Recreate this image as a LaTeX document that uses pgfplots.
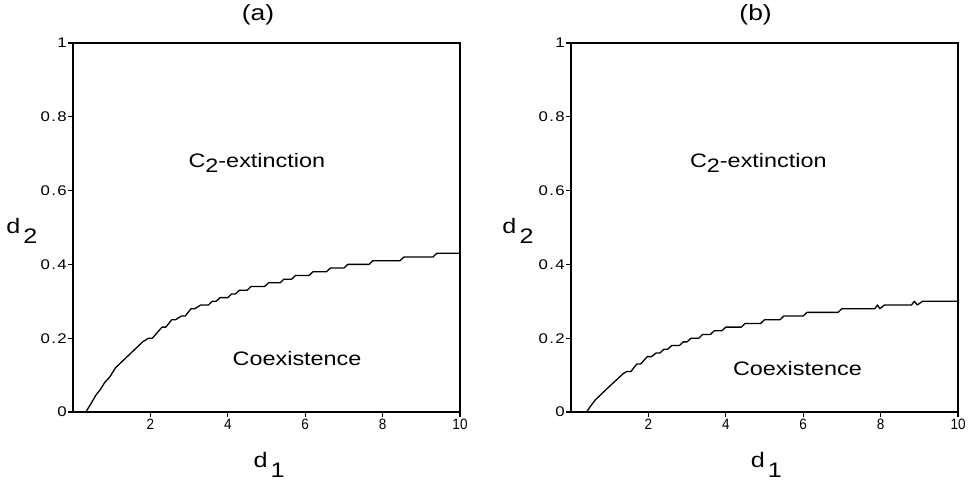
\documentclass[border=0pt]{standalone}
\usepackage{fontspec}
\setmainfont{Liberation Sans}[FakeStretch=1.2]
\newfontfamily\tickfont{Liberation Sans}[FakeStretch=1.2,LetterSpace=10]
\newfontfamily\narrowfont{Liberation Sans}[FakeStretch=0.9]
\usepackage{pgfplots}
\pgfplotsset{compat=1.18}

\pgfplotsset{
  phase/.style={
    scale only axis,
    width=387pt, height=369pt,
    xmin=0, xmax=10, ymin=0, ymax=1,
    xtick={2,4,6,8,10},
    ytick={0,0.2,0.4,0.6,0.8,1},
    xtick pos=bottom, ytick pos=left,
    tick align=outside,
    major tick length=5pt,
    major tick style={black, line width=1.2pt},
    axis line style={line width=2.2pt},
    /pgf/number format/assume math mode=true,
    yticklabel style={font=\tickfont\fontsize{14}{14}\selectfont, inner xsep=1pt},
    xticklabel style={font=\narrowfont\fontsize{15}{15}\selectfont, inner ysep=2pt},
    clip=false,
  },
  curve/.style={black, line width=1.3pt, line join=round},
}
\newcommand{\lab}{\fontsize{19.5}{20}\selectfont}
\newcommand{\biglab}{\fontsize{21}{22}\selectfont}

\begin{document}
\begin{tikzpicture}
\begin{axis}[phase]
  % (a) boundary
  \addplot[curve] coordinates {
    (0,0) (0.33,0) (0.45,0.02) (0.6,0.047) (0.7,0.06) (0.82,0.08)
    (0.95,0.095) (1.1,0.12) (1.3,0.14) (1.55,0.165) (1.8,0.19)
    (1.95,0.20) (2.05,0.20) (2.3,0.23) (2.4,0.23) (2.55,0.25) (2.65,0.25)
    (2.8,0.26) (2.9,0.26) (3.05,0.28) (3.15,0.28) (3.3,0.29) (3.5,0.29)
    (3.6,0.30) (3.7,0.30) (3.8,0.31) (4.0,0.31) (4.1,0.32) (4.2,0.32)
    (4.3,0.33) (4.5,0.33) (4.6,0.34) (4.95,0.34) (5.05,0.35) (5.35,0.35)
    (5.45,0.36) (5.65,0.36) (5.75,0.37) (6.1,0.37) (6.2,0.38) (6.55,0.38)
    (6.65,0.39) (7.0,0.39) (7.1,0.40) (7.65,0.40) (7.75,0.41) (8.45,0.41)
    (8.55,0.42) (9.3,0.42) (9.4,0.43) (10,0.43)
  };
  \node[font=\lab] at (axis cs:4.75,0.675) {C\raisebox{-5pt}{2}-extinction};
  \node[font=\lab] at (axis cs:5.79,0.146) {Coexistence};
  \node[font=\fontsize{22}{23}\selectfont] at (rel axis cs:0.478,1.076) {(a)};
  \node[font=\biglab, xshift=-51pt] at (rel axis cs:0,0.49) {d\hspace{3pt}\raisebox{-10pt}{2}};
  \node[font=\biglab, yshift=-53pt] at (rel axis cs:0.507,0) {d\hspace{3pt}\raisebox{-10pt}{1}};
\end{axis}

\begin{axis}[phase, at={(498pt,0pt)}]
  % (b) boundary
  \addplot[curve] coordinates {
    (0,0) (0.40,0) (0.5,0.015) (0.63,0.033) (1.0,0.07) (1.36,0.105)
    (1.45,0.11) (1.55,0.11) (1.7,0.13) (1.8,0.13) (1.97,0.15) (2.08,0.15)
    (2.2,0.16) (2.3,0.16) (2.4,0.17) (2.5,0.17) (2.6,0.18) (2.8,0.18)
    (2.9,0.19) (3.0,0.19) (3.1,0.20) (3.3,0.20) (3.4,0.21) (3.6,0.21)
    (3.7,0.22) (3.9,0.22) (4.0,0.23) (4.4,0.23) (4.5,0.24) (4.9,0.24)
    (5.0,0.25) (5.4,0.25) (5.5,0.26) (6.0,0.26) (6.1,0.27) (6.9,0.27)
    (7.0,0.28) (7.85,0.28) (7.92,0.29) (7.98,0.28) (8.1,0.29) (8.8,0.29)
    (8.87,0.30) (8.95,0.29) (9.08,0.30) (10,0.30)
  };
  \node[font=\lab] at (axis cs:4.84,0.675) {C\raisebox{-5pt}{2}-extinction};
  \node[font=\lab] at (axis cs:5.85,0.119) {Coexistence};
  \node[font=\fontsize{22}{23}\selectfont] at (rel axis cs:0.477,1.076) {(b)};
  \node[font=\biglab, xshift=-53pt] at (rel axis cs:0,0.49) {d\hspace{3pt}\raisebox{-10pt}{2}};
  \node[font=\biglab, yshift=-53pt] at (rel axis cs:0.505,0) {d\hspace{3pt}\raisebox{-10pt}{1}};
\end{axis}
\path (-73pt,-67pt) rectangle (898pt,412pt);
\end{tikzpicture}
\end{document}
